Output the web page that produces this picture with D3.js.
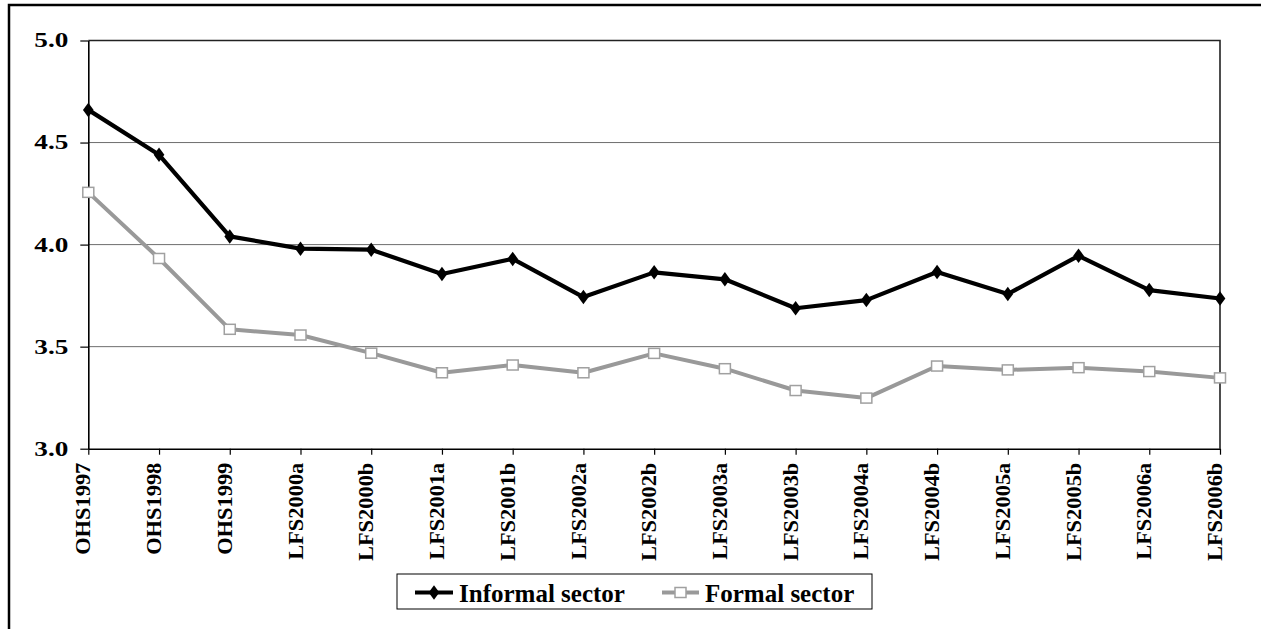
<!DOCTYPE html>
<html>
<head>
  <meta charset='utf-8'>
  <title>Informal and formal sector</title>
  <script src="https://cdnjs.cloudflare.com/ajax/libs/d3/7.8.5/d3.min.js"></script>
  <style>
    html, body {
      margin: 0;
      padding: 0;
      background: #fff;
    }
    svg text {
      font-family: 'Liberation Serif', 'Times New Roman', serif;
      font-weight: bold;
    }
  </style>
</head>
<body>
  <svg id="chart"></svg>
  <script>
    // data
    const surveys = ["OHS1997", "OHS1998", "OHS1999", "LFS2000a", "LFS2000b", "LFS2001a", "LFS2001b",
      "LFS2002a", "LFS2002b", "LFS2003a", "LFS2003b", "LFS2004a", "LFS2004b", "LFS2005a",
      "LFS2005b", "LFS2006a", "LFS2006b"];
    const informal = [4.66, 4.44, 4.04, 3.98, 3.975, 3.856, 3.93, 3.743, 3.864, 3.83, 3.688,
      3.728, 3.866, 3.758, 3.945, 3.777, 3.736];
    const formal = [4.256, 3.932, 3.585, 3.557, 3.468, 3.372, 3.41, 3.372, 3.467, 3.392, 3.285,
      3.248, 3.405, 3.386, 3.397, 3.378, 3.347];
    const yTicks = [3.0, 3.5, 4.0, 4.5, 5.0];
    const seriesNames = ["Informal sector", "Formal sector"];

    const width = 1261;
    const height = 629;

    const svg = d3.select('#chart')
      .attr('width', width)
      .attr('height', height);

    // outer frame (only top and left show in the crop)
    svg.append('path')
      .attr('d', `M9,${height} L9,5 L${width},5`)
      .attr('fill', 'none')
      .attr('stroke', '#000')
      .attr('stroke-width', 2.5);

    const x = d3.scalePoint().domain(surveys).range([88.3, 1220]);
    const y = d3.scaleLinear().domain([3, 5]).range([448.7, 40.5]);

    //gridlines
    svg.append('g')
      .selectAll('line')
      .data(yTicks.slice(1, 4))
      .join('line')
      .attr('x1', 88.3).attr('x2', 1220)
      .attr('y1', d => y(d)).attr('y2', d => y(d))
      .attr('stroke', '#6e6e6e')
      .attr('stroke-width', 1);

    // plot area border top/right
    svg.append('path')
      .attr('d', `M88.3,${y(5)} L1220,${y(5)} L1220,${y(3)}`)
      .attr('fill', 'none')
      .attr('stroke', '#222')
      .attr('stroke-width', 1.6);

    // y axis
    const yAxis = svg.append('g')
      .attr('transform', 'translate(88.3,0)')
      .call(d3.axisLeft(y).tickValues(yTicks).tickFormat(d3.format('.1f')).tickSize(8).tickPadding(12).tickSizeOuter(0));
    yAxis.select('.domain').attr('stroke', '#000').attr('stroke-width', 1.6);
    yAxis.selectAll('.tick line').attr('stroke', '#000').attr('stroke-width', 1.2);
    yAxis.selectAll('.tick text')
      .attr('font-size', 20)
      .attr('fill', '#000')
      .attr('textLength', 34)
      .attr('lengthAdjust', 'spacingAndGlyphs');

    // x axis
    const xAxis = svg.append('g')
      .attr('transform', `translate(0,${y(3)})`)
      .call(d3.axisBottom(x).tickSize(6).tickSizeOuter(0));
    xAxis.select('.domain').attr('stroke', '#000').attr('stroke-width', 1.6);
    xAxis.selectAll('.tick line').attr('stroke', '#000').attr('stroke-width', 1.2);
    xAxis.selectAll('.tick text')
      .attr('font-size', 20)
      .attr('fill', '#000')
      .attr('transform', 'rotate(-90)')
      .attr('text-anchor', 'end')
      .attr('x', -14)
      .attr('y', 0)
      .attr('dy', '0.08em')
      .each(function () {
        const len = this.getComputedTextLength();
        d3.select(this).attr('textLength', len * 1.12).attr('lengthAdjust', 'spacingAndGlyphs');
      });

    const line = d3.line()
      .x((d, i) => x(surveys[i]))
      .y(d => y(d));

    const diamond = d3.symbol().type(d3.symbolDiamond).size(75);

    // formal sector (grey, hollow squares)
    svg.append('path')
      .datum(formal)
      .attr('d', line)
      .attr('fill', 'none')
      .attr('stroke', '#999')
      .attr('stroke-width', 4)
      .attr('stroke-linejoin', 'round');
    svg.append('g')
      .selectAll('rect')
      .data(formal)
      .join('rect')
      .attr('x', (d, i) => x(surveys[i]) - 5.5)
      .attr('y', d => y(d) - 5)
      .attr('width', 11)
      .attr('height', 10)
      .attr('fill', '#fff')
      .attr('stroke', '#a0a0a0')
      .attr('stroke-width', 1.5);

    // informal sector (black, diamonds)
    svg.append('path')
      .datum(informal)
      .attr('d', line)
      .attr('fill', 'none')
      .attr('stroke', '#000')
      .attr('stroke-width', 4.2)
      .attr('stroke-linejoin', 'round');
    svg.append('g')
      .selectAll('path')
      .data(informal)
      .join('path')
      .attr('d', diamond)
      .attr('transform', (d, i) => `translate(${x(surveys[i])},${y(d)}) scale(1.15,0.9)`)
      .attr('fill', '#000');

    // legend
    const legend = svg.append('g');
    legend.append('rect')
      .attr('x', 397).attr('y', 574)
      .attr('width', 475).attr('height', 35)
      .attr('fill', '#fff')
      .attr('stroke', '#000')
      .attr('stroke-width', 1);

    const legendItems = [
      { name: seriesNames[0], x1: 415, x2: 453, tx: 459, color: '#000', marker: 'diamond' },
      { name: seriesNames[1], x1: 662, x2: 699, tx: 705, color: '#999', marker: 'square' }
    ];
    const ly = 592.5;
    legendItems.forEach(item => {
      legend.append('line')
        .attr('x1', item.x1).attr('x2', item.x2)
        .attr('y1', ly).attr('y2', ly)
        .attr('stroke', item.color)
        .attr('stroke-width', 4);
      const cx = (item.x1 + item.x2) / 2;
      if (item.marker == 'diamond') {
        legend.append('path')
          .attr('d', diamond)
          .attr('transform', `translate(${cx},${ly}) scale(1.15,0.9)`)
          .attr('fill', '#000');
      } else {
        legend.append('rect')
          .attr('x', cx - 5.5).attr('y', ly - 5)
          .attr('width', 11).attr('height', 10)
          .attr('fill', '#fff')
          .attr('stroke', '#a0a0a0')
          .attr('stroke-width', 1.5);
      }
      legend.append('text')
        .attr('x', item.tx)
        .attr('y', 601.5)
        .attr('font-size', 25)
        .attr('fill', '#000')
        .text(item.name);
    });
  </script>
</body>
</html>
